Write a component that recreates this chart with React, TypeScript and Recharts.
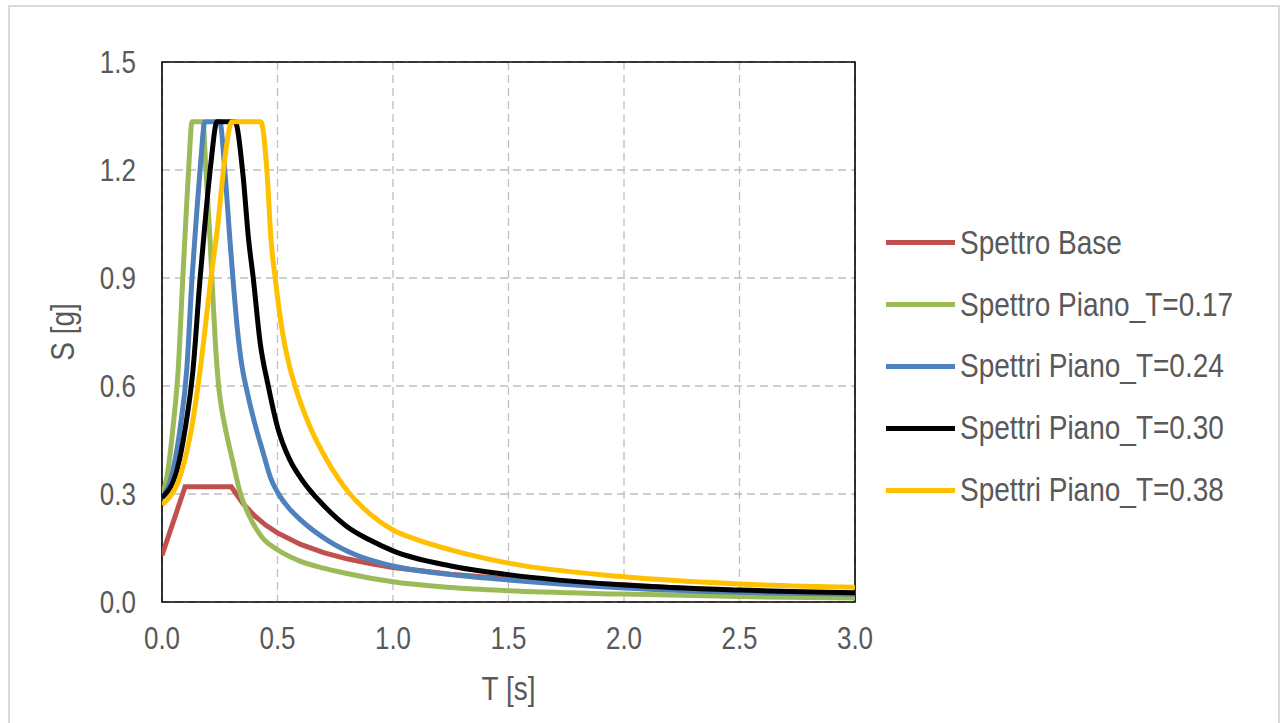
import React from 'react';
import { LineChart, Line, XAxis, YAxis, CartesianGrid, ReferenceArea } from 'recharts';

// Spettro Base
const T_BASE = [0, 0.1, 0.3, 0.35, 0.4, 0.45, 0.5, 0.6, 0.7, 0.8, 0.9, 1.0, 1.25, 1.5, 1.75, 2.0, 2.25, 2.5, 2.75, 3.0];
const S_BASE = [0.13, 0.32, 0.32, 0.274, 0.24, 0.213, 0.192, 0.16, 0.137, 0.12, 0.107, 0.096, 0.077, 0.064, 0.055, 0.048, 0.038, 0.031, 0.025, 0.021];

// Spettro Piano_T=0.17
const T_G = [0, 0.026, 0.05, 0.07, 0.09, 0.104, 0.116, 0.13, 0.177, 0.19, 0.208, 0.216, 0.23, 0.245, 0.26, 0.275, 0.305, 0.34, 0.372, 0.433, 0.5, 0.6, 0.7, 0.8, 1.0, 1.25, 1.5, 2.0, 2.5, 3.0];
const S_G = [0.29, 0.367, 0.5, 0.644, 0.9, 1.07, 1.21, 1.334, 1.334, 1.2, 1.006, 0.9, 0.73, 0.6, 0.53, 0.48, 0.394, 0.3, 0.247, 0.18, 0.145, 0.113, 0.094, 0.079, 0.056, 0.04, 0.031, 0.022, 0.015, 0.011];

// Spettri Piano_T=0.24
const T_B = [0, 0.048, 0.08, 0.107, 0.13, 0.149, 0.166, 0.186, 0.25, 0.273, 0.294, 0.307, 0.326, 0.345, 0.37, 0.4, 0.44, 0.47, 0.5, 0.545, 0.6, 0.72, 0.835, 1.0, 1.25, 1.5, 2.0, 2.5, 3.0];
const S_B = [0.29, 0.367, 0.49, 0.644, 0.9, 1.07, 1.21, 1.334, 1.334, 1.19, 1.006, 0.9, 0.76, 0.66, 0.58, 0.5, 0.41, 0.345, 0.305, 0.264, 0.228, 0.17, 0.132, 0.1, 0.076, 0.061, 0.039, 0.027, 0.022];

// Spettri Piano_T=0.30
const T_K = [0, 0.065, 0.1, 0.134, 0.165, 0.19, 0.212, 0.238, 0.316, 0.35, 0.375, 0.395, 0.425, 0.46, 0.5, 0.554, 0.6, 0.65, 0.7, 0.8, 0.9, 1.0, 1.25, 1.5, 2.0, 2.5, 3.0];
const S_K = [0.29, 0.367, 0.48, 0.644, 0.9, 1.08, 1.22, 1.334, 1.334, 1.19, 1.006, 0.9, 0.72, 0.6, 0.486, 0.394, 0.345, 0.303, 0.268, 0.21, 0.172, 0.142, 0.1, 0.076, 0.047, 0.033, 0.026];

// Spettri Piano_T=0.38
const T_Y = [0, 0.087, 0.13, 0.165, 0.212, 0.242, 0.268, 0.303, 0.428, 0.455, 0.472, 0.49, 0.524, 0.55, 0.576, 0.641, 0.714, 0.814, 0.9, 1.0, 1.1, 1.25, 1.5, 2.0, 2.5, 3.0];
const S_Y = [0.27, 0.367, 0.49, 0.644, 0.9, 1.05, 1.21, 1.334, 1.334, 1.19, 1.006, 0.9, 0.74, 0.66, 0.6, 0.486, 0.394, 0.3, 0.245, 0.2, 0.174, 0.145, 0.108, 0.07, 0.05, 0.041];

const X_TICKS = [0, 0.5, 1.0, 1.5, 2.0, 2.5, 3.0];
const Y_TICKS = [0, 0.3, 0.6, 0.9, 1.2, 1.5];

const NAMES = ['Spettro Base', 'Spettro Piano_T=0.17', 'Spettri Piano_T=0.24', 'Spettri Piano_T=0.30', 'Spettri Piano_T=0.38'];
const COLORS = ['#C0504D', '#9BBB59', '#4F81BD', '#000000', '#FFC000'];
const TS = [T_BASE, T_G, T_B, T_K, T_Y];
const SS = [S_BASE, S_G, S_B, S_K, S_Y];

const zip = (t: number[], s: number[]) => t.map((x, i) => ({ t: x, s: s[i] }));

const FONT = "'Liberation Sans', Arial, sans-serif";
const TEXT = '#595959';
const SY = 1.18;

const XTick = (p: any) => (
  <g transform={`translate(${p.x},${p.y + 36}) scale(1,${SY})`}>
    <text x={0} y={0} dy="0.36em" textAnchor="middle" fill={TEXT} fontSize={26} fontFamily={FONT}>
      {Number(p.payload.value).toFixed(1)}
    </text>
  </g>
);

const YTick = (p: any) => (
  <g transform={`translate(${p.x - 26},${p.y}) scale(1,${SY})`}>
    <text x={0} y={0} dy="0.36em" textAnchor="end" fill={TEXT} fontSize={26} fontFamily={FONT}>
      {Number(p.payload.value).toFixed(1)}
    </text>
  </g>
);

export default function App() {
  return (
    <div style={{ position: 'absolute', left: 0, top: 0, width: 1288, height: 723, background: '#fff', overflow: 'hidden', fontFamily: FONT }}>
      <div style={{ position: 'absolute', left: 8, top: 5, width: 1272, height: 760, border: '2px solid #d9d9d9', boxSizing: 'border-box' }} />
      <div style={{ position: 'absolute', left: 0, top: 0 }}>
        <LineChart width={1288} height={723} margin={{ top: 62, right: 433, bottom: 61, left: 102 }}>
          <CartesianGrid stroke="#bfbfbf" strokeDasharray="8 5" strokeWidth={1.3} />
          <XAxis
            type="number"
            dataKey="t"
            domain={[0, 3]}
            ticks={X_TICKS}
            allowDataOverflow
            tickLine={false}
            axisLine={false}
            tickSize={0}
            tickMargin={0}
            height={60}
            tick={XTick}
            label={{
              content: (p: any) => {
                const vb = p.viewBox;
                const cx = vb.x + vb.width / 2;
                const cy = 688;
                return (
                  <g transform={`translate(${cx},${cy}) scale(1,${SY})`}>
                    <text x={0} y={0} dy="0.36em" textAnchor="middle" fill={TEXT} fontSize={28} fontFamily={FONT}>
                      T [s]
                    </text>
                  </g>
                );
              },
            }}
          />
          <YAxis
            type="number"
            domain={[0, 1.5]}
            ticks={Y_TICKS}
            allowDataOverflow
            tickLine={false}
            axisLine={false}
            tickSize={0}
            tickMargin={0}
            width={60}
            tick={YTick}
            label={{
              content: (p: any) => {
                const vb = p.viewBox;
                const cx = vb.x - 40;
                const cy = vb.y + vb.height / 2;
                return (
                  <g transform={`translate(${cx},${cy}) rotate(-90) scale(1,${SY})`}>
                    <text x={0} y={0} dy="0.36em" textAnchor="middle" fill={TEXT} fontSize={28} fontFamily={FONT}>
                      S [g]
                    </text>
                  </g>
                );
              },
            }}
          />
          <ReferenceArea x1={0} x2={3} y1={0} y2={1.5} fill="none" stroke="#000" strokeWidth={1.6} ifOverflow="visible" />
          {NAMES.map((n, i) => (
            <Line
              key={n}
              data={zip(TS[i], SS[i])}
              dataKey="s"
              name={n}
              type={i === 0 ? 'linear' : 'monotone'}
              stroke={COLORS[i]}
              strokeWidth={5}
              dot={false}
              activeDot={false}
              isAnimationActive={false}
            />
          ))}
        </LineChart>
      </div>
      <div style={{ position: 'absolute', left: 886, top: 212 }}>
        {NAMES.map((n, i) => (
          <div key={n} style={{ display: 'flex', alignItems: 'center', height: 61.8 }}>
            <div style={{ width: 69, height: 5, background: COLORS[i], marginRight: 5 }} />
            <span style={{ display: 'inline-block', color: TEXT, fontSize: 28, fontFamily: FONT, whiteSpace: 'nowrap', transform: `scaleY(${SY})` }}>{n}</span>
          </div>
        ))}
      </div>
    </div>
  );
}
